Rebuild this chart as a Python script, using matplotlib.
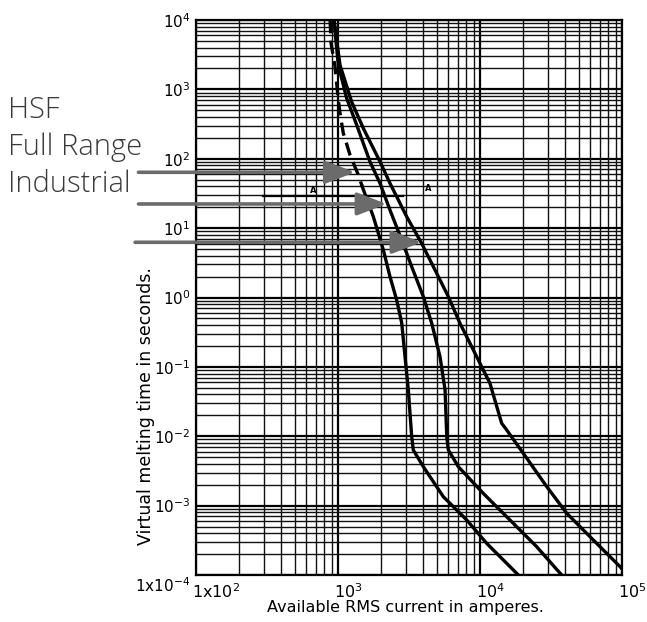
import numpy as np
import matplotlib
matplotlib.use('Agg')
import matplotlib.pyplot as plt
from matplotlib.ticker import LogLocator, NullFormatter
import matplotlib.transforms as mtransforms

plt.rcParams['font.family'] = ['DejaVu Sans']
plt.rcParams['mathtext.fontset'] = 'dejavusans'

# ---- data (current in A, time in s) ----
hsf_dash_x = [880, 893, 953, 1005, 1033, 1089, 1216, 1391, 1480]
hsf_dash_y = [10000, 4650, 2120, 703, 456, 235, 113, 58.3, 40]

hsf_x = [1480, 1774, 2086, 2323, 2590, 2810, 2965, 3128, 3304, 3390, 3990, 5515, 8060, 11140, 18620]
hsf_y = [40, 14.6, 4.84, 2.0, 0.92, 0.43, 0.14, 0.0465, 0.00986, 0.00634, 0.00364, 0.001346, 0.000621, 0.000286, 0.0001]

full_x = [937, 1005, 1151, 1355, 1679, 1977, 2323, 2810, 3304, 3990, 4571, 5228, 5675, 5834, 5985, 7036, 10550, 16250, 25060, 37580]
full_y = [10000, 2244, 743, 306, 90.6, 44.3, 18.2, 6.74, 2.78, 1.03, 0.425, 0.14, 0.0465, 0.00986, 0.00634, 0.00364, 0.0015, 0.000621, 0.000256, 0.0001]

ind_x = [937, 1033, 1247, 1507, 1977, 2323, 3048, 3882, 4955, 5985, 7228, 9480, 11750, 14210, 15420, 20190, 29500, 40820, 62830, 96830, 100000]
ind_y = [10000, 2244, 664, 275, 90.6, 44.3, 14.6, 6.04, 2.23, 1.03, 0.425, 0.14, 0.058, 0.0154, 0.0123, 0.00567, 0.00188, 0.000775, 0.000319, 0.000132, 0.000122]

seg_x = [296, 2884]
seg_y = [29.3, 29.3]
a_marks_x = [670, 4325]
a_marks_y = [35.4, 37.5]

series_names = ['HSF', 'Full Range', 'Industrial']
arrow_tip_x = [1318, 2203, 3882]
arrow_tip_y = [63.8, 22.3, 6.25]

xtick_vals = [1e2, 1e3, 1e4, 1e5]
xtick_labels = [r'$\mathregular{1x10^{2}}$', r'$\mathregular{10^{3}}$', r'$\mathregular{10^{4}}$', r'$\mathregular{10^{5}}$']
ytick_vals = [1e-4, 1e-3, 1e-2, 1e-1, 1e0, 1e1, 1e2, 1e3, 1e4]
ytick_labels = [r'$\mathregular{1x10^{-4}}$', r'$\mathregular{10^{-3}}$', r'$\mathregular{10^{-2}}$',
                r'$\mathregular{10^{-1}}$', r'$\mathregular{10^{0}}$', r'$\mathregular{10^{1}}$',
                r'$\mathregular{10^{2}}$', r'$\mathregular{10^{3}}$', r'$\mathregular{10^{4}}$']

W, H = 647, 622
fig = plt.figure(figsize=(W / 100, H / 100), dpi=100)
ax = fig.add_axes([196 / W, 1 - 575 / H, 426 / W, 555 / H])
ax.set_xscale('log')
ax.set_yscale('log')
ax.set_xlim(1e2, 1e5)
ax.set_ylim(1e-4, 1e4)

ax.xaxis.set_minor_locator(LogLocator(base=10, subs=np.arange(2, 10), numticks=100))
ax.yaxis.set_minor_locator(LogLocator(base=10, subs=np.arange(2, 10), numticks=100))
ax.xaxis.set_minor_formatter(NullFormatter())
ax.yaxis.set_minor_formatter(NullFormatter())
ax.set_xticks(xtick_vals)
ax.set_xticklabels(xtick_labels)
ax.set_yticks(ytick_vals)
ax.set_yticklabels(ytick_labels)
ax.tick_params(which='both', length=0)
ax.tick_params(axis='x', labelsize=11.5, colors='black', pad=5)
ax.tick_params(axis='y', labelsize=11, colors='black', pad=4)

ax.grid(which='major', color='black', lw=1.6)
ax.grid(which='minor', color='#111111', lw=1.0)
ax.set_axisbelow(True)
for s in ax.spines.values():
    s.set_linewidth(1.6)
    s.set_color('black')

# x tick labels left-aligned near tick
off = mtransforms.ScaledTranslation(-4 / 100, 0, fig.dpi_scale_trans)
for lab in ax.get_xticklabels():
    lab.set_horizontalalignment('left')
    lab.set_transform(lab.get_transform() + off)
yl = ax.get_yticklabels()
yl[0].set_transform(yl[0].get_transform() + mtransforms.ScaledTranslation(0, -9 / 100, fig.dpi_scale_trans))

# curves
ax.plot(hsf_dash_x, hsf_dash_y, color='black', lw=2.4, dashes=(4, 2.2), solid_capstyle='butt')
ax.plot(hsf_x, hsf_y, color='black', lw=2.4, solid_joinstyle='round')
ax.plot(full_x, full_y, color='black', lw=2.4, solid_joinstyle='round')
ax.plot(ind_x, ind_y, color='black', lw=2.4, solid_joinstyle='round')

ax.plot(seg_x, seg_y, color='black', lw=1.6)
for x, y in zip(a_marks_x, a_marks_y):
    ax.text(x, y, 'A', fontsize=6, fontweight='bold', ha='center', va='center')

# arrows
tail_fracs = [-0.135, -0.135, -0.143]
for tx, ty, fx in zip(arrow_tip_x, arrow_tip_y, tail_fracs):
    ax.annotate('', xy=(tx, ty), xycoords='data', xytext=(fx, ty),
                textcoords=('axes fraction', 'data'), annotation_clip=False,
                arrowprops=dict(arrowstyle='-|>,head_length=1.3,head_width=0.5',
                                color='#6b6b6b', lw=2.6, mutation_scale=14,
                                shrinkA=0, shrinkB=0))

# left labels
baselines = [118.5, 155.5, 192]
for name, b in zip(series_names, baselines):
    fig.text(8 / W, 1 - b / H, name, fontsize=21, color='#3a3a3a', family='Open Sans',
             fontweight='light', ha='left', va='baseline')

fig.text(405.5 / W, 1 - 611.7 / H, 'Available RMS current in amperes.', fontsize=11.5,
         ha='center', va='baseline')
fig.text(146 / W, 1 - 406 / H, 'Virtual melting time in seconds.', fontsize=12.5,
         rotation=90, ha='center', va='center')

fig.savefig('out.png', dpi=100)
